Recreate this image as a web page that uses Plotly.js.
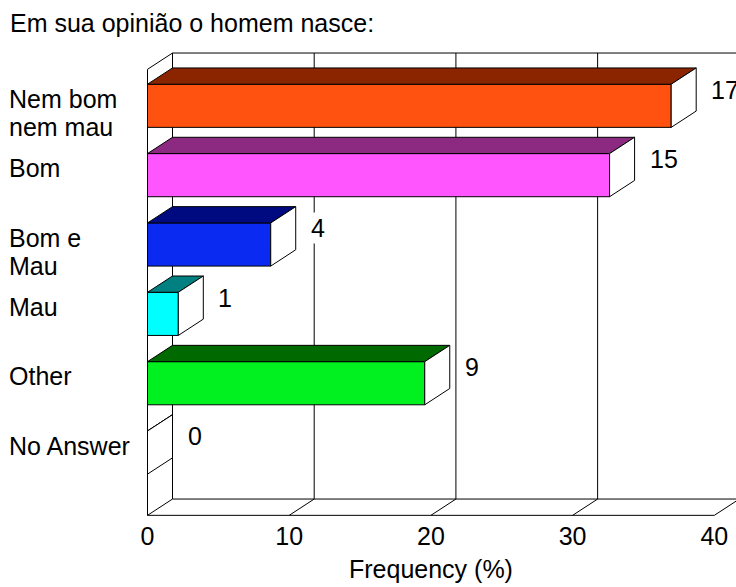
<!DOCTYPE html>
<html>
<head>
<meta charset="utf-8">
<script src="https://cdn.plot.ly/plotly-3.0.1.min.js"></script>
<style>
  html, body { margin: 0; padding: 0; background: #fff; }
  #chart { width: 736px; height: 587px; }
</style>
</head>
<body>
<div id="chart"></div>
<script>
// Survey answers: "Em sua opinião o homem nasce:"
const categories = ["Nem bom<br>nem mau", "Bom", "Bom e<br>Mau", "Mau", "Other", "No Answer"];
const counts = [17, 15, 4, 1, 9, 0];
const tickValues = [0, 10, 20, 30, 40];
const tickLabels = ["0", "10", "20", "30", "40"];

// Face colours of each bar (front / top)
const frontColors = ["#FF5210", "#FF55FF", "#0A2AF2", "#00FFFF", "#00F020", "#FFFFFF"];
const topColors = ["#8B2500", "#8B2A80", "#000A80", "#008080", "#006A00", "#FFFFFF"];

const total = counts.reduce((a, b) => a + b, 0);
const percents = counts.map(c => c / total * 100);
const pos = categories.map((_, i) => i);

// Pseudo-3D geometry, in axis units
const DX = 1.764;      // depth offset along x
const DY = 0.235;      // depth offset along y (upwards)
const HALF = 0.311;    // half the bar thickness
const FRONT_TOP = -0.526;
const FRONT_FLOOR = 5.905;
const BACK_TOP = FRONT_TOP - DY;
const BACK_FLOOR = FRONT_FLOOR - DY;
const FONT = "Liberation Sans, Arial, sans-serif";

const traces = [];

// Front faces
traces.push({
  type: "bar",
  orientation: "h",
  x: percents,
  y: pos,
  width: 0.622,
  marker: { color: frontColors, line: { color: "#000", width: 1 } },
  hoverinfo: "skip",
  showlegend: false
});

// Top and side faces
percents.forEach((p, i) => {
  const yt = i - HALF, yb = i + HALF;
  traces.push({
    type: "scatter", mode: "lines", fill: "toself",
    x: [0, p, p + DX, DX, 0],
    y: [yt, yt, yt - DY, yt - DY, yt],
    fillcolor: topColors[i],
    line: { color: "#000", width: 1 },
    hoverinfo: "skip", showlegend: false
  });
  traces.push({
    type: "scatter", mode: "lines", fill: "toself",
    x: [p, p + DX, p + DX, p, p],
    y: [yt, yt - DY, yb - DY, yb, yt],
    fillcolor: "#FFFFFF",
    line: { color: "#000", width: 1 },
    hoverinfo: "skip", showlegend: false
  });
});

// Box walls, floor and back-plane grid
const line = (x0, y0, x1, y1) => ({
  type: "line", xref: "x", yref: "y", x0, y0, x1, y1,
  line: { color: "#000", width: 1 }, layer: "below"
});
const shapes = [
  line(0, FRONT_TOP, 0, FRONT_FLOOR),
  line(0, FRONT_TOP, DX, BACK_TOP),
  line(DX, BACK_TOP, 50, BACK_TOP),
  line(0, FRONT_FLOOR, 40, FRONT_FLOOR),
  line(DX, BACK_FLOOR, 50, BACK_FLOOR)
];
tickValues.forEach(v => {
  shapes.push(line(v + DX, BACK_TOP, v + DX, BACK_FLOOR));
  shapes.push(line(v, FRONT_FLOOR, v + DX, BACK_FLOOR));
});

// Category labels, left aligned, one annotation per line
const annotations = [];
categories.forEach((c, i) => {
  c.split("<br>").forEach((txt, j) => {
    annotations.push({
      text: txt, xref: "paper", yref: "y", x: -0.203, y: i,
      xanchor: "left", yanchor: "middle", yshift: 7 - 28 * j,
      showarrow: false, font: { family: FONT, size: 25, color: "#000" }
    });
  });
});

// Count labels next to the bars
counts.forEach((c, i) => {
  annotations.push({
    text: String(c), xref: "x", yref: "y", x: percents[i] + DX, y: i - DY,
    xanchor: "left", yanchor: "middle", xshift: 13,
    bgcolor: "#FFFFFF", showarrow: false,
    font: { family: FONT, size: 25, color: "#000" }
  });
});

// Axis title
annotations.push({
  text: "Frequency (%)", xref: "x", yref: "paper", x: 20, y: -0.11,
  xanchor: "center", yanchor: "middle", showarrow: false,
  font: { family: FONT, size: 25, color: "#000" }
});

const layout = {
  width: 736, height: 587,
  margin: { l: 130, r: 0, t: 45, b: 70 },
  paper_bgcolor: "#FFFFFF", plot_bgcolor: "#FFFFFF",
  title: {
    text: "Em sua opinião o homem nasce:",
    xref: "container", yref: "container",
    x: 10 / 736, xanchor: "left", y: 1 - 23 / 587, yanchor: "middle",
    font: { family: FONT, size: 25, color: "#000" }
  },
  xaxis: {
    range: [-1.235, 41.53], tickvals: tickValues, ticktext: tickLabels,
    showgrid: false, zeroline: false, showline: false,
    ticks: "", ticklabelstandoff: 2,
    tickfont: { family: FONT, size: 25, color: "#000" }, fixedrange: true
  },
  yaxis: {
    range: [5.929, -0.8767], showticklabels: false,
    showgrid: false, zeroline: false, showline: false, fixedrange: true
  },
  shapes, annotations, bargap: 0
};

Plotly.newPlot("chart", traces, layout, { displayModeBar: false, staticPlot: true });
</script>
</body>
</html>
